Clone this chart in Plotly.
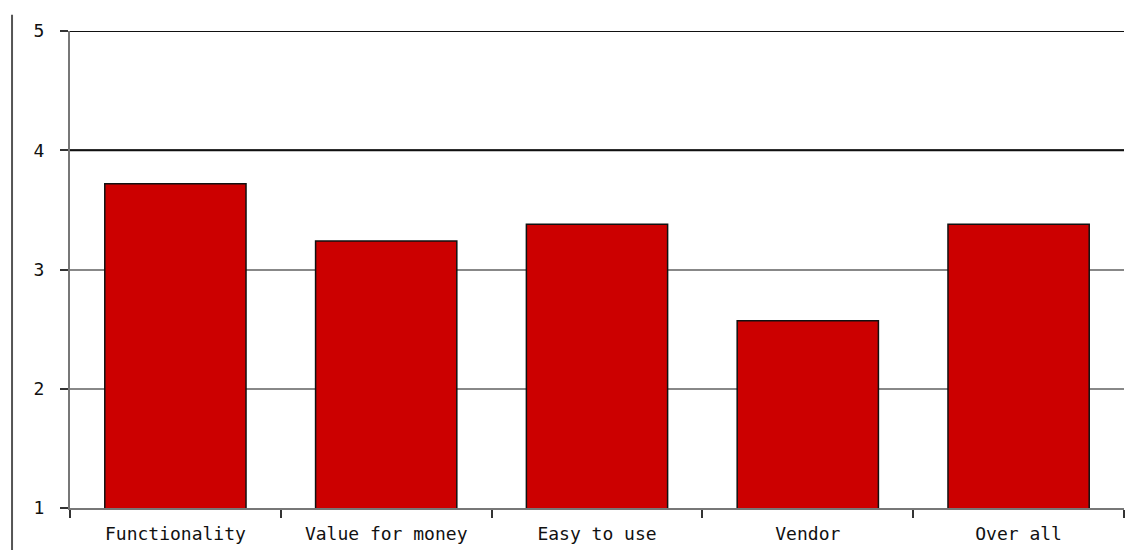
import plotly.graph_objects as go

categories = ["Functionality", "Value for money", "Easy to use", "Vendor", "Over all"]
scores = [3.72, 3.24, 3.38, 2.57, 3.38]
y_ticks = [1, 2, 3, 4, 5]

font_family = "DejaVu Sans Mono"

fig = go.Figure(
    go.Bar(
        x=categories,
        y=scores,
        marker=dict(color="#cc0000", line=dict(color="#111111", width=1.5)),
        width=0.67,
        hoverinfo="x+y",
    )
)

# Heavier reference lines at the upper ticks
for level in (4, 5):
    fig.add_shape(
        type="line", xref="paper", yref="y", x0=0, x1=1, y0=level, y1=level,
        line=dict(color="#111111", width=2.2), layer="above",
    )

# Vertical rule at the far left edge of the panel
fig.add_shape(
    type="line", xref="paper", yref="paper", x0=-0.055, x1=-0.055, y0=-0.088, y1=1.034,
    line=dict(color="#555555", width=2),
)

fig.update_layout(
    width=1128,
    height=560,
    margin=dict(l=70, r=4, t=31, b=52),
    paper_bgcolor="white",
    plot_bgcolor="white",
    showlegend=False,
    font=dict(family=font_family, size=17, color="#111111"),
    xaxis=dict(
        type="category",
        range=[-0.5, 4.5],
        showline=True,
        linecolor="#777777",
        linewidth=2,
        ticks="outside",
        tickson="boundaries",
        ticklen=8,
        tickwidth=2,
        tickcolor="#333333",
        showgrid=False,
        ticklabelstandoff=8,
        tickfont=dict(family=font_family, size=18, color="#111111"),
    ),
    yaxis=dict(
        range=[1, 5],
        tickvals=y_ticks,
        showline=True,
        linecolor="#777777",
        linewidth=2,
        ticks="outside",
        ticklen=8,
        tickwidth=2,
        tickcolor="#333333",
        showgrid=True,
        gridcolor="#888888",
        gridwidth=1.5,
        zeroline=False,
        ticklabelstandoff=12,
        tickfont=dict(family=font_family, size=18, color="#111111"),
    ),
)

fig.write_html("out.html")
